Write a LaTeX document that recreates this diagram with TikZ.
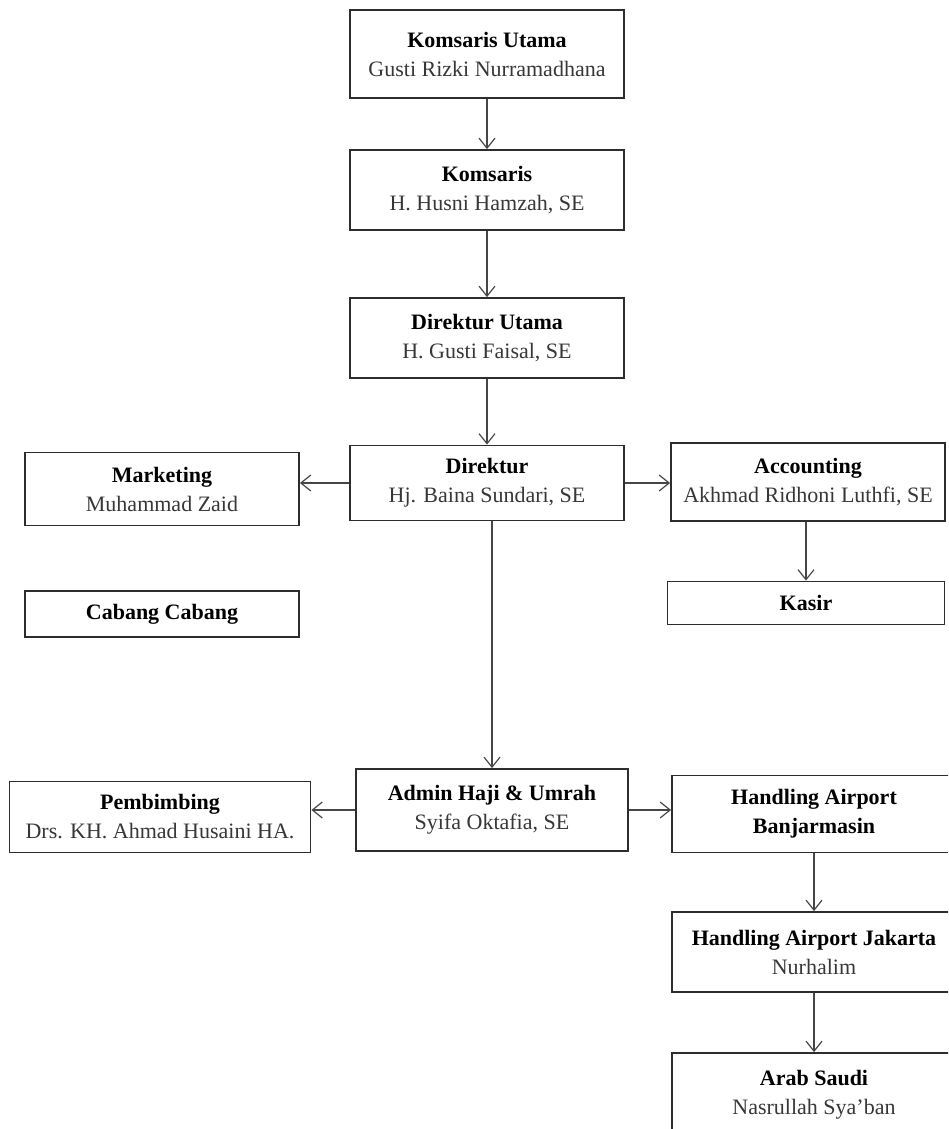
\documentclass[tikz,border=0pt]{standalone}
\usepackage{fontspec}
\setmainfont{Liberation Serif}
\usetikzlibrary{arrows.meta,positioning}
\definecolor{boxline}{RGB}{45,45,45}
\definecolor{nametext}{RGB}{55,55,55}
\definecolor{flowline}{RGB}{70,70,70}
\tikzset{
  orgbox/.style={draw=boxline,line width=0.9pt,minimum width=137pt,minimum height=39pt,
    align=center,inner sep=2pt,font=\fontsize{11}{14.5}\selectfont,fill=white},
  orgboxw/.style={orgbox,minimum width=142pt},
  orgflow/.style={-{Straight Barb[length=5pt,width=8pt,line width=0.6pt]},line width=0.6pt,draw=flowline}
}
\newcommand{\orgname}[2]{\textbf{#1}\\{\color{nametext}#2}}

\begin{document}
\begin{tikzpicture}[x=0.5pt,y=-0.5pt]
  \useasboundingbox (0,0) rectangle (948,1129);
  \clip (0,0) rectangle (948,1129);
  % board and directors
  \node[orgbox,minimum height=44pt] (ku) at (487,54) {\orgname{Komsaris Utama}{Gusti Rizki Nurramadhana}};
  \node[orgbox,minimum height=40pt] (kom) at (487,190) {\orgname{Komsaris}{H. Husni Hamzah, SE}};
  \node[orgbox,minimum height=40pt] (dirut) at (487,338) {\orgname{Direktur Utama}{H. Gusti Faisal, SE}};
  \node[orgbox,minimum height=37.5pt] (dir) at (487,483) {\orgname{Direktur}{Hj. Baina Sundari, SE}};
  \draw[orgflow] (ku) -- (kom);
  \draw[orgflow] (kom) -- (dirut);
  \draw[orgflow] (dirut) -- (dir);
  % left and right of direktur
  \node[orgbox,minimum height=36.5pt] (mkt) at (162,489) {\orgname{Marketing}{Muhammad Zaid}};
  \node[orgbox,minimum height=23pt] (cabang) at (162,614) {\textbf{Cabang Cabang}};
  \node[orgbox] (acc) at (808,482) {\orgname{Accounting}{Akhmad Ridhoni Luthfi, SE}};
  \node[orgbox,minimum width=138.5pt,minimum height=21.5pt] (kasir) at (806,603) {\textbf{Kasir}};
  \draw[orgflow] (dir.west) -- (mkt.east |- dir.west);
  \draw[orgflow] (dir.east) -- (acc.west |- dir.east);
  \draw[orgflow] (acc.south -| kasir.north) -- (kasir.north);
  % admin row
  \node[orgbox,minimum width=136pt,minimum height=41pt] (admin) at (492,810) {\orgname{Admin Haji \& Umrah}{Syifa Oktafia, SE}};
  \node[orgbox,minimum width=150.5pt,minimum height=35.5pt] (pemb) at (160,817) {\orgname{Pembimbing}{Drs. KH. Ahmad Husaini HA.}};
  \node[orgboxw,minimum height=38.5pt] (hbdj) at (814,814) {\textbf{Handling Airport}\\\textbf{Banjarmasin}};
  \draw[orgflow] (admin.north |- dir.south) -- (admin.north);
  \draw[orgflow] (admin.west) -- (pemb.east |- admin.west);
  \draw[orgflow] (admin.east) -- (hbdj.west |- admin.east);
  % handling chain
  \node[orgboxw,minimum height=40pt] (hjkt) at (814,952) {\orgname{Handling Airport Jakarta}{Nurhalim}};
  \node[orgboxw,minimum height=42pt] (saudi) at (814,1095) {\orgname{Arab Saudi}{Nasrullah Sya'ban}};
  \draw[orgflow] (hbdj) -- (hjkt);
  \draw[orgflow] (hjkt) -- (saudi);
\end{tikzpicture}
\end{document}
